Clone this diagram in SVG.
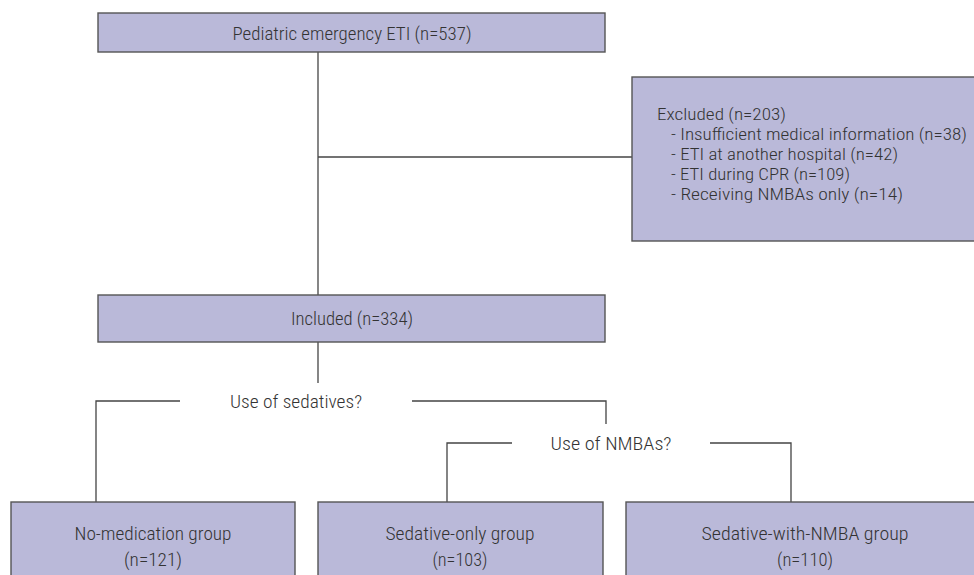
<svg xmlns="http://www.w3.org/2000/svg" width="974" height="575" viewBox="0 0 974 575">
<style>
.box{fill:#bab9d9;stroke:#555;stroke-width:1.4}
.t{font-family:"Liberation Sans Narrow","Roboto Condensed",Roboto,"Liberation Sans",sans-serif;font-size:19px;font-weight:300;fill:#333}
.s{font-size:16.5px}
.c{text-anchor:middle}
.ln{fill:none;stroke:#444;stroke-width:1.3}
</style>
<rect x="0" y="0" width="974" height="575" fill="#fff"/>
<g id="connectors">
<path class="ln" d="M318 52V295"/>
<path class="ln" d="M318 157H632"/>
<path class="ln" d="M318 342V383"/>
<path class="ln" d="M180 401H96V502"/>
<path class="ln" d="M412 401H606V424"/>
<path class="ln" d="M512 443H447V502"/>
<path class="ln" d="M710 443H791V502"/>
</g>
<g id="n-total">
<rect class="box" x="98" y="13" width="507" height="39"/>
<text class="t c" x="352" y="40" textLength="239" lengthAdjust="spacingAndGlyphs">Pediatric emergency ETI (n=537)</text>
</g>
<g id="n-excluded">
<rect class="box" x="632" y="77" width="350" height="164"/>
<text class="t s" x="657" y="120" textLength="129" lengthAdjust="spacingAndGlyphs">Excluded (n=203)</text>
<text class="t s" x="671" y="140" textLength="296" lengthAdjust="spacingAndGlyphs">- Insufficient medical information (n=38)</text>
<text class="t s" x="671" y="160" textLength="227" lengthAdjust="spacingAndGlyphs">- ETI at another hospital (n=42)</text>
<text class="t s" x="671" y="180" textLength="179" lengthAdjust="spacingAndGlyphs">- ETI during CPR (n=109)</text>
<text class="t s" x="671" y="200" textLength="232" lengthAdjust="spacingAndGlyphs">- Receiving NMBAs only (n=14)</text>
</g>
<g id="n-included">
<rect class="box" x="98" y="295" width="507" height="47"/>
<text class="t c" x="352" y="325" textLength="122" lengthAdjust="spacingAndGlyphs">Included (n=334)</text>
</g>
<g id="q-sedatives">
<text class="t c" x="296" y="408" textLength="132" lengthAdjust="spacingAndGlyphs">Use of sedatives?</text>
</g>
<g id="q-nmbas">
<text class="t c" x="611" y="450" textLength="121" lengthAdjust="spacingAndGlyphs">Use of NMBAs?</text>
</g>
<g id="n-nomed">
<rect class="box" x="11" y="502" width="284" height="80"/>
<text class="t c" x="153" y="540" textLength="157" lengthAdjust="spacingAndGlyphs">No-medication group</text>
<text class="t c" x="153" y="566" textLength="58" lengthAdjust="spacingAndGlyphs">(n=121)</text>
</g>
<g id="n-sedonly">
<rect class="box" x="318" y="502" width="285" height="80"/>
<text class="t c" x="460" y="540" textLength="149" lengthAdjust="spacingAndGlyphs">Sedative-only group</text>
<text class="t c" x="460" y="566" textLength="55" lengthAdjust="spacingAndGlyphs">(n=103)</text>
</g>
<g id="n-sednmba">
<rect class="box" x="626" y="502" width="360" height="80"/>
<text class="t c" x="805" y="540" textLength="207" lengthAdjust="spacingAndGlyphs">Sedative-with-NMBA group</text>
<text class="t c" x="805" y="566" textLength="56" lengthAdjust="spacingAndGlyphs">(n=110)</text>
</g>
</svg>
